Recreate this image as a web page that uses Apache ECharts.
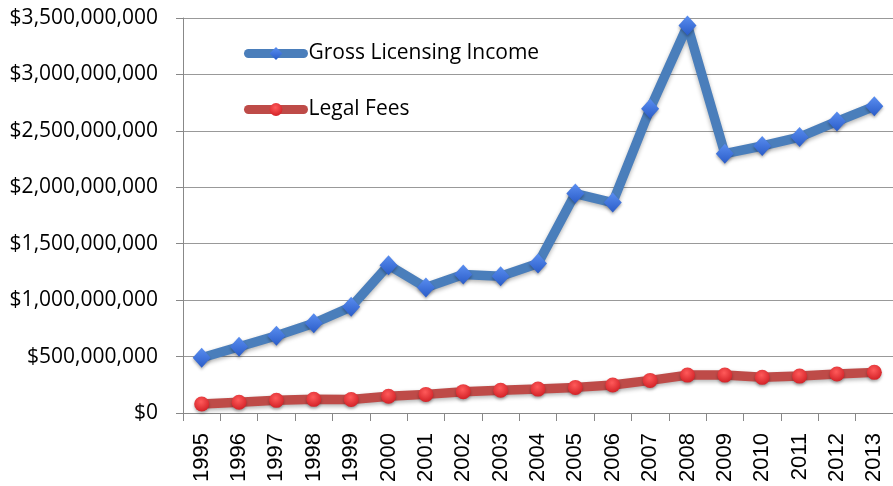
<!DOCTYPE html>
<html>
<head>
<meta charset="utf-8">
<script src="https://cdn.jsdelivr.net/npm/echarts@6/dist/echarts.min.js"></script>
<style>html,body{margin:0;padding:0;background:#fff;}#c{width:893px;height:486px;}</style>
</head>
<body>
<div id="c"></div>
<script>
var years = ['1995','1996','1997','1998','1999','2000','2001','2002','2003','2004','2005','2006','2007','2008','2009','2010','2011','2012','2013'];
var grossIncome = [490e6, 587e6, 684e6, 795e6, 941e6, 1310e6, 1112e6, 1227e6, 1212e6, 1325e6, 1944e6, 1865e6, 2696e6, 3434e6, 2298e6, 2366e6, 2445e6, 2584e6, 2717e6];
var legalFees = [80e6, 95e6, 112e6, 121e6, 120e6, 148e6, 165e6, 189e6, 201e6, 212e6, 227e6, 248e6, 289e6, 336e6, 336e6, 316e6, 327e6, 345e6, 360e6];
var yTicks = {min: 0, max: 3500000000, interval: 500000000};

function money(v){
  return '$' + String(Math.round(v)).replace(/\B(?=(\d{3})+(?!\d))/g, ',');
}

var chart = echarts.init(document.getElementById('c'), null, {renderer: 'canvas'});
chart.setOption({
  animation: false,
  backgroundColor: '#ffffff',
  grid: {left: 183, right: -1, top: 18, bottom: 73, containLabel: false},
  legend: {
    orient: 'vertical',
    left: 239,
    top: 38,
    itemWidth: 55,
    itemHeight: 16,
    itemGap: 35,
    lineStyle: {width: 9, cap: 'round'},
    textStyle: {fontFamily: 'Open Sans', fontSize: 21, color: '#000'},
    data: ['Gross Licensing Income', 'Legal Fees']
  },
  xAxis: {
    type: 'category',
    data: years,
    boundaryGap: true,
    axisLine: {lineStyle: {color: '#888888', width: 1}},
    axisTick: {show: true, length: 8, alignWithLabel: false, lineStyle: {color: '#888888'}},
    axisLabel: {rotate: 90, margin: 20, fontFamily: 'Liberation Sans', fontSize: 22, color: '#000', interval: 0},
    splitLine: {show: false}
  },
  yAxis: {
    type: 'value',
    min: yTicks.min,
    max: yTicks.max,
    interval: yTicks.interval,
    axisLine: {show: true, lineStyle: {color: '#888888', width: 1}},
    axisTick: {show: true, length: 7, lineStyle: {color: '#888888'}},
    axisLabel: {margin: 25, fontFamily: 'Open Sans', fontSize: 21, color: '#000', formatter: money},
    splitLine: {show: true, lineStyle: {color: '#999999', width: 1}}
  },
  series: [
    {
      name: 'Gross Licensing Income',
      type: 'line',
      data: grossIncome,
      symbol: 'diamond',
      symbolSize: [18, 20],
      lineStyle: {color: '#4a7ebb', width: 9.5, shadowColor: 'rgba(0,0,0,0.3)', shadowBlur: 4, shadowOffsetY: 2},
      itemStyle: {
        color: new echarts.graphic.LinearGradient(0,0,0,1,[{offset:0,color:'#5a8ef0'},{offset:1,color:'#2a5cc8'}]),
        borderWidth: 0,
        shadowColor: 'rgba(0,0,0,0.3)', shadowBlur: 3, shadowOffsetY: 2
      },
      z: 3
    },
    {
      name: 'Legal Fees',
      type: 'line',
      data: legalFees,
      symbol: 'circle',
      symbolSize: 15,
      lineStyle: {color: '#be4b48', width: 9.5, shadowColor: 'rgba(0,0,0,0.3)', shadowBlur: 4, shadowOffsetY: 2},
      itemStyle: {
        color: new echarts.graphic.RadialGradient(0.45,0.35,0.7,[{offset:0,color:'#ff5a5a'},{offset:1,color:'#d01e24'}]),
        borderWidth: 0,
        shadowColor: 'rgba(0,0,0,0.3)', shadowBlur: 3, shadowOffsetY: 2
      },
      z: 2
    }
  ]
});
</script>
</body>
</html>
